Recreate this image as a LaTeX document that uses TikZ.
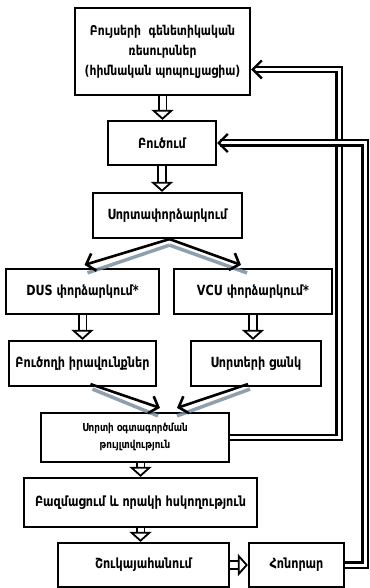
\documentclass[tikz,border=0pt]{standalone}
\usepackage{fontspec}
\setmainfont{DejaVu Sans}[FakeStretch=0.8]
\usetikzlibrary{arrows.meta,calc}

\tikzset{
  box/.style={draw, line width=2.2pt, align=center, inner sep=1pt,
    font=\bfseries\fontsize{14}{16}\selectfont},
  hollow/.style={draw=black, double=white, line width=1.8pt, double distance=6pt,
    -{Triangle[open, length=10pt, width=22pt]}},
  splitarrow/.style={line width=2.6pt, -{Straight Barb[length=8pt, width=18pt]}},
  greyline/.style={line width=3.5pt, draw={rgb,255:red,122;green,142;blue,160}, opacity=.85},
  feedback/.style={draw=black, double=white, line width=2.4pt, double distance=3pt,
    -{Straight Barb[length=9pt, width=18pt]}}
}

\begin{document}
\begin{tikzpicture}[x=1pt, y=-1pt]
	\useasboundingbox (0,0) rectangle (369,588);
	% boxes
	\node[box, minimum width=175, minimum height=87, font=\bfseries\fontsize{13.5}{20}\selectfont]
		(gen) at (162.5,51.5) {Բույսերի\ \ գենետիկական\\ռեսուրսներ\\ (հիմնական պոպուլյացիա)};
	\node[box, minimum width=108, minimum height=44] (breed) at (162,143) {Բուծում};
	\node[box, minimum width=149, minimum height=45] (vtest) at (167.5,215.5) {Սորտափորձարկում};
	\node[box, minimum width=153, minimum height=45] (dus) at (82.5,291.5) {DUS փորձարկում*};
	\node[box, minimum width=158, minimum height=45] (vcu) at (253,291.5) {VCU փորձարկում*};
	\node[box, minimum width=147, minimum height=45] (rights) at (82.5,363.5) {Բուծողի իրավունքներ};
	\node[box, minimum width=130, minimum height=45] (vlist) at (256,363.5) {Սորտերի ցանկ};
	\node[box, minimum width=188, minimum height=49, font=\bfseries\fontsize{11}{17}\selectfont]
		(perm) at (135,437.5) {Սորտի օգտագործման\\թույլտվություն};
	\node[box, minimum width=233, minimum height=49] (mult) at (140.5,502.5) {Բազմացում և որակի հսկողություն};
	\node[box, minimum width=171, minimum height=44] (market) at (143.5,565) {Շուկայահանում};
	\node[box, minimum width=95, minimum height=44] (royal) at (296.5,565) {Հոնորար};
	% main chain
	\draw[hollow] (gen.south) -- (gen.south |- breed.north);
	\draw[hollow] (breed.south) -- (breed.south |- vtest.north);
	\draw[hollow] (dus.south) -- (dus.south |- rights.north);
	\draw[hollow] (vcu.south) -- (vcu.south |- vlist.north);
	\draw[hollow] (mult.north |- perm.south) -- (mult.north);
	\draw[hollow] (mult.south) -- (mult.south |- market.north);
	\draw[hollow] (market) -- (royal);
	% split and join
	\coordinate (vtop) at ($(vtest.south)+(2,0)$);
	\draw[greyline] ($(vtop)+(0,6)$) -- ($(dus.north)+(5,5)$);
	\draw[greyline] ($(vtop)+(0,6)$) -- ($(vcu.north)+(-6,5)$);
	\draw[splitarrow] (vtop) -- ($(dus.north)+(2,-3)$);
	\draw[splitarrow] (vtop) -- ($(vcu.north)+(-12,-3)$);
	\draw[greyline] ($(rights.south)+(10,2)$) -- ($(perm.north)+(23,4)$);
	\draw[greyline] ($(vlist.south)+(-6,2)$) -- ($(perm.north)+(42,4)$);
	\draw[splitarrow] ($(rights.south)+(8,-3)$) -- ($(perm.north)+(25,-4)$);
	\draw[splitarrow] ($(vlist.south)+(-8,-3)$) -- ($(perm.north)+(42,-4)$);
	% feedback loops
	\coordinate (genin) at ($(gen.east)+(0,18)$);
	\draw[feedback] (perm.east) -- (339,437.5) |- (genin);
	\draw[feedback] (royal.east) -- (365,565) |- (breed.east);
\end{tikzpicture}
\end{document}
